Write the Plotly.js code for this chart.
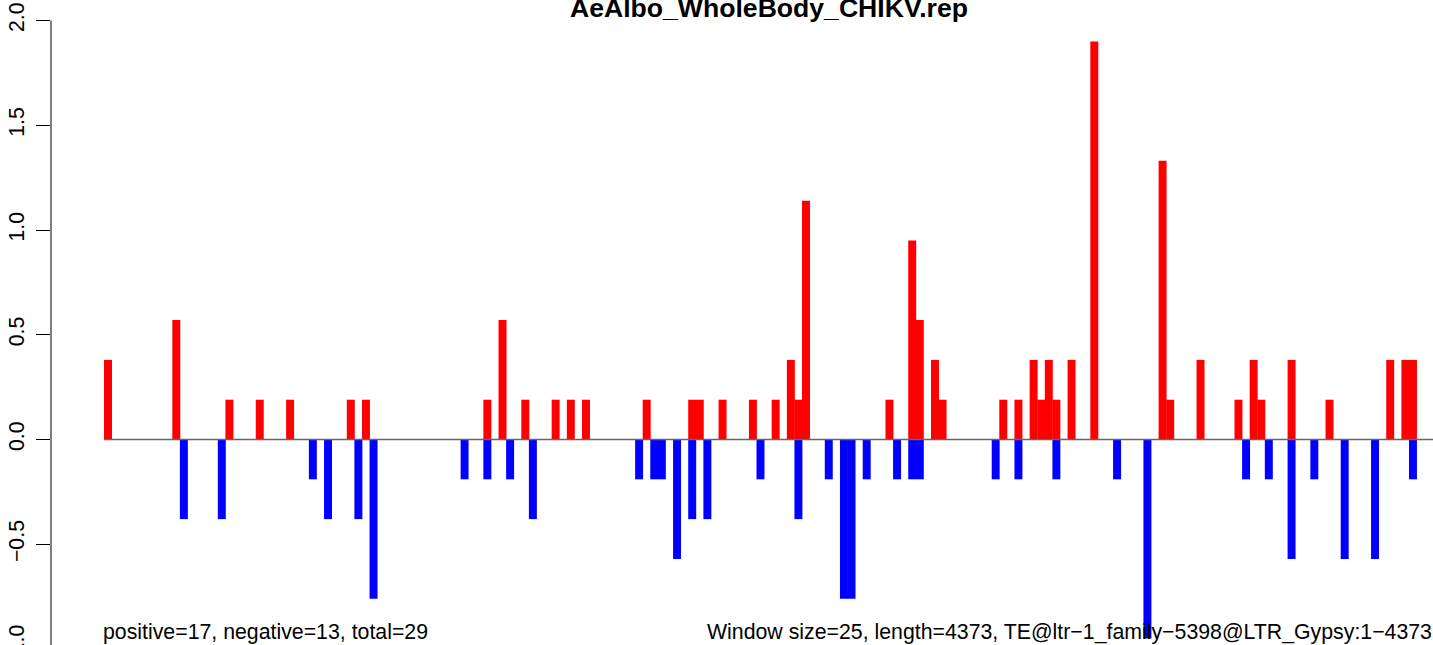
<!DOCTYPE html>
<html>
<head>
<meta charset="utf-8">
<script src="https://cdn.plot.ly/plotly-3.0.1.min.js"></script>
<style>
  html, body { margin: 0; padding: 0; overflow: hidden; background: #fff; }
  #chart { width: 1433px; height: 700px; }
</style>
</head>
<body>
<div id="chart"></div>
<script>
// Window index (25-nt windows) and values
const posIdx = [0, 9, 16, 20, 24, 32, 34, 50, 52, 55, 59, 61, 63, 71, 77, 78, 81, 85, 88, 90, 91, 92,
                103, 106, 107, 109, 110, 118, 120, 122, 123, 124, 125, 127, 130, 139, 140, 144, 149, 151,
                152, 156, 161, 169, 171, 172];
const posVal = [0.38, 0.57, 0.19, 0.19, 0.19, 0.19, 0.19, 0.19, 0.57, 0.19, 0.19, 0.19, 0.19, 0.19, 0.19, 0.19,
                0.19, 0.19, 0.19, 0.38, 0.19, 1.14, 0.19, 0.95, 0.57, 0.38, 0.19, 0.19, 0.19, 0.38, 0.19, 0.38,
                0.19, 0.38, 1.90, 1.33, 0.19, 0.38, 0.19, 0.38, 0.19, 0.38, 0.19, 0.38, 0.38, 0.38];
const negIdx = [10, 15, 27, 29, 33, 35, 47, 50, 53, 56, 70, 72, 73, 75, 77, 79, 86, 91, 95, 97, 98, 100,
                104, 106, 107, 117, 120, 125, 133, 137, 150, 153, 156, 159, 163, 167, 172];
const negVal = [-0.38, -0.38, -0.19, -0.38, -0.38, -0.76, -0.19, -0.19, -0.19, -0.38, -0.19, -0.19, -0.19,
                -0.57, -0.38, -0.38, -0.19, -0.38, -0.19, -0.76, -0.76, -0.19, -0.19, -0.19, -0.19, -0.19,
                -0.19, -0.19, -0.19, -0.95, -0.19, -0.19, -0.57, -0.19, -0.57, -0.57, -0.19];
const yTickVals = [-1, -0.5, 0, 0.5, 1, 1.5, 2];
const yTickText = ['\u22121.0', '\u22120.5', '0.0', '0.5', '1.0', '1.5', '2.0'];
const titleText = 'AeAlbo_WholeBody_CHIKV.rep';
const leftNote = 'positive=17, negative=13, total=29';
const rightNote = 'Window size=25, length=4373, TE@ltr\u22121_family\u22125398@LTR_Gypsy:1\u22124373';

const FONT = '"Liberation Sans", Arial, Helvetica, sans-serif';
const H = 700;

const traces = [
  { type: 'bar', x: posIdx, y: posVal, width: 1.05, marker: { color: '#FF0000', line: { width: 0 } },
    hoverinfo: 'x+y', showlegend: false },
  { type: 'bar', x: negIdx, y: negVal, width: 1.05, marker: { color: '#0000FF', line: { width: 0 } },
    hoverinfo: 'x+y', showlegend: false }
];

const layout = {
  width: 1433, height: H,
  margin: { l: 51, r: 0, t: 0, b: 0, pad: 0 },
  paper_bgcolor: '#ffffff', plot_bgcolor: '#ffffff',
  barmode: 'overlay',
  showlegend: false,
  font: { family: FONT, color: '#000' },
  xaxis: {
    range: [-7.513, 174.64], visible: false, showgrid: false, zeroline: false, fixedrange: true
  },
  yaxis: {
    range: [(439.5 - H) / 209.5, 439.5 / 209.5],
    tickmode: 'array', tickvals: yTickVals, ticktext: yTickText,
    ticks: 'outside', ticklen: 14, tickwidth: 1, tickcolor: '#000',
    ticklabelstandoff: 3,
    tickangle: -90, tickfont: { family: FONT, size: 21.3, color: '#000' },
    showgrid: false, zeroline: false, showline: false, fixedrange: true
  },
  shapes: [
    { type: 'line', xref: 'paper', yref: 'y', x0: 0, x1: 0, y0: -1, y1: 2,
      line: { color: '#000', width: 1 } },
    { type: 'line', xref: 'x', yref: 'y', x0: -0.55, x1: 180, y0: 0, y1: 0,
      line: { color: '#666666', width: 1.5 }, layer: 'above' }
  ],
  annotations: [
    { text: '<b>' + titleText + '</b>', xref: 'paper', yref: 'paper',
      x: (768.5 - 51) / 1382, y: 1, xanchor: 'center', yanchor: 'top', yshift: 9,
      showarrow: false, font: { family: FONT, size: 26.6, color: '#000' } },
    { text: leftNote, xref: 'paper', yref: 'paper',
      x: (101 - 51) / 1382, y: (H - 632) / H, xanchor: 'left', yanchor: 'middle',
      showarrow: false, font: { family: FONT, size: 21.3, color: '#000' } },
    { text: rightNote, xref: 'paper', yref: 'paper',
      x: (1434 - 51) / 1382, y: (H - 632) / H, xanchor: 'right', yanchor: 'middle',
      showarrow: false, font: { family: FONT, size: 21.3, color: '#000' } }
  ]
};

Plotly.newPlot('chart', traces, layout, { displayModeBar: false, staticPlot: true });
</script>
</body>
</html>
